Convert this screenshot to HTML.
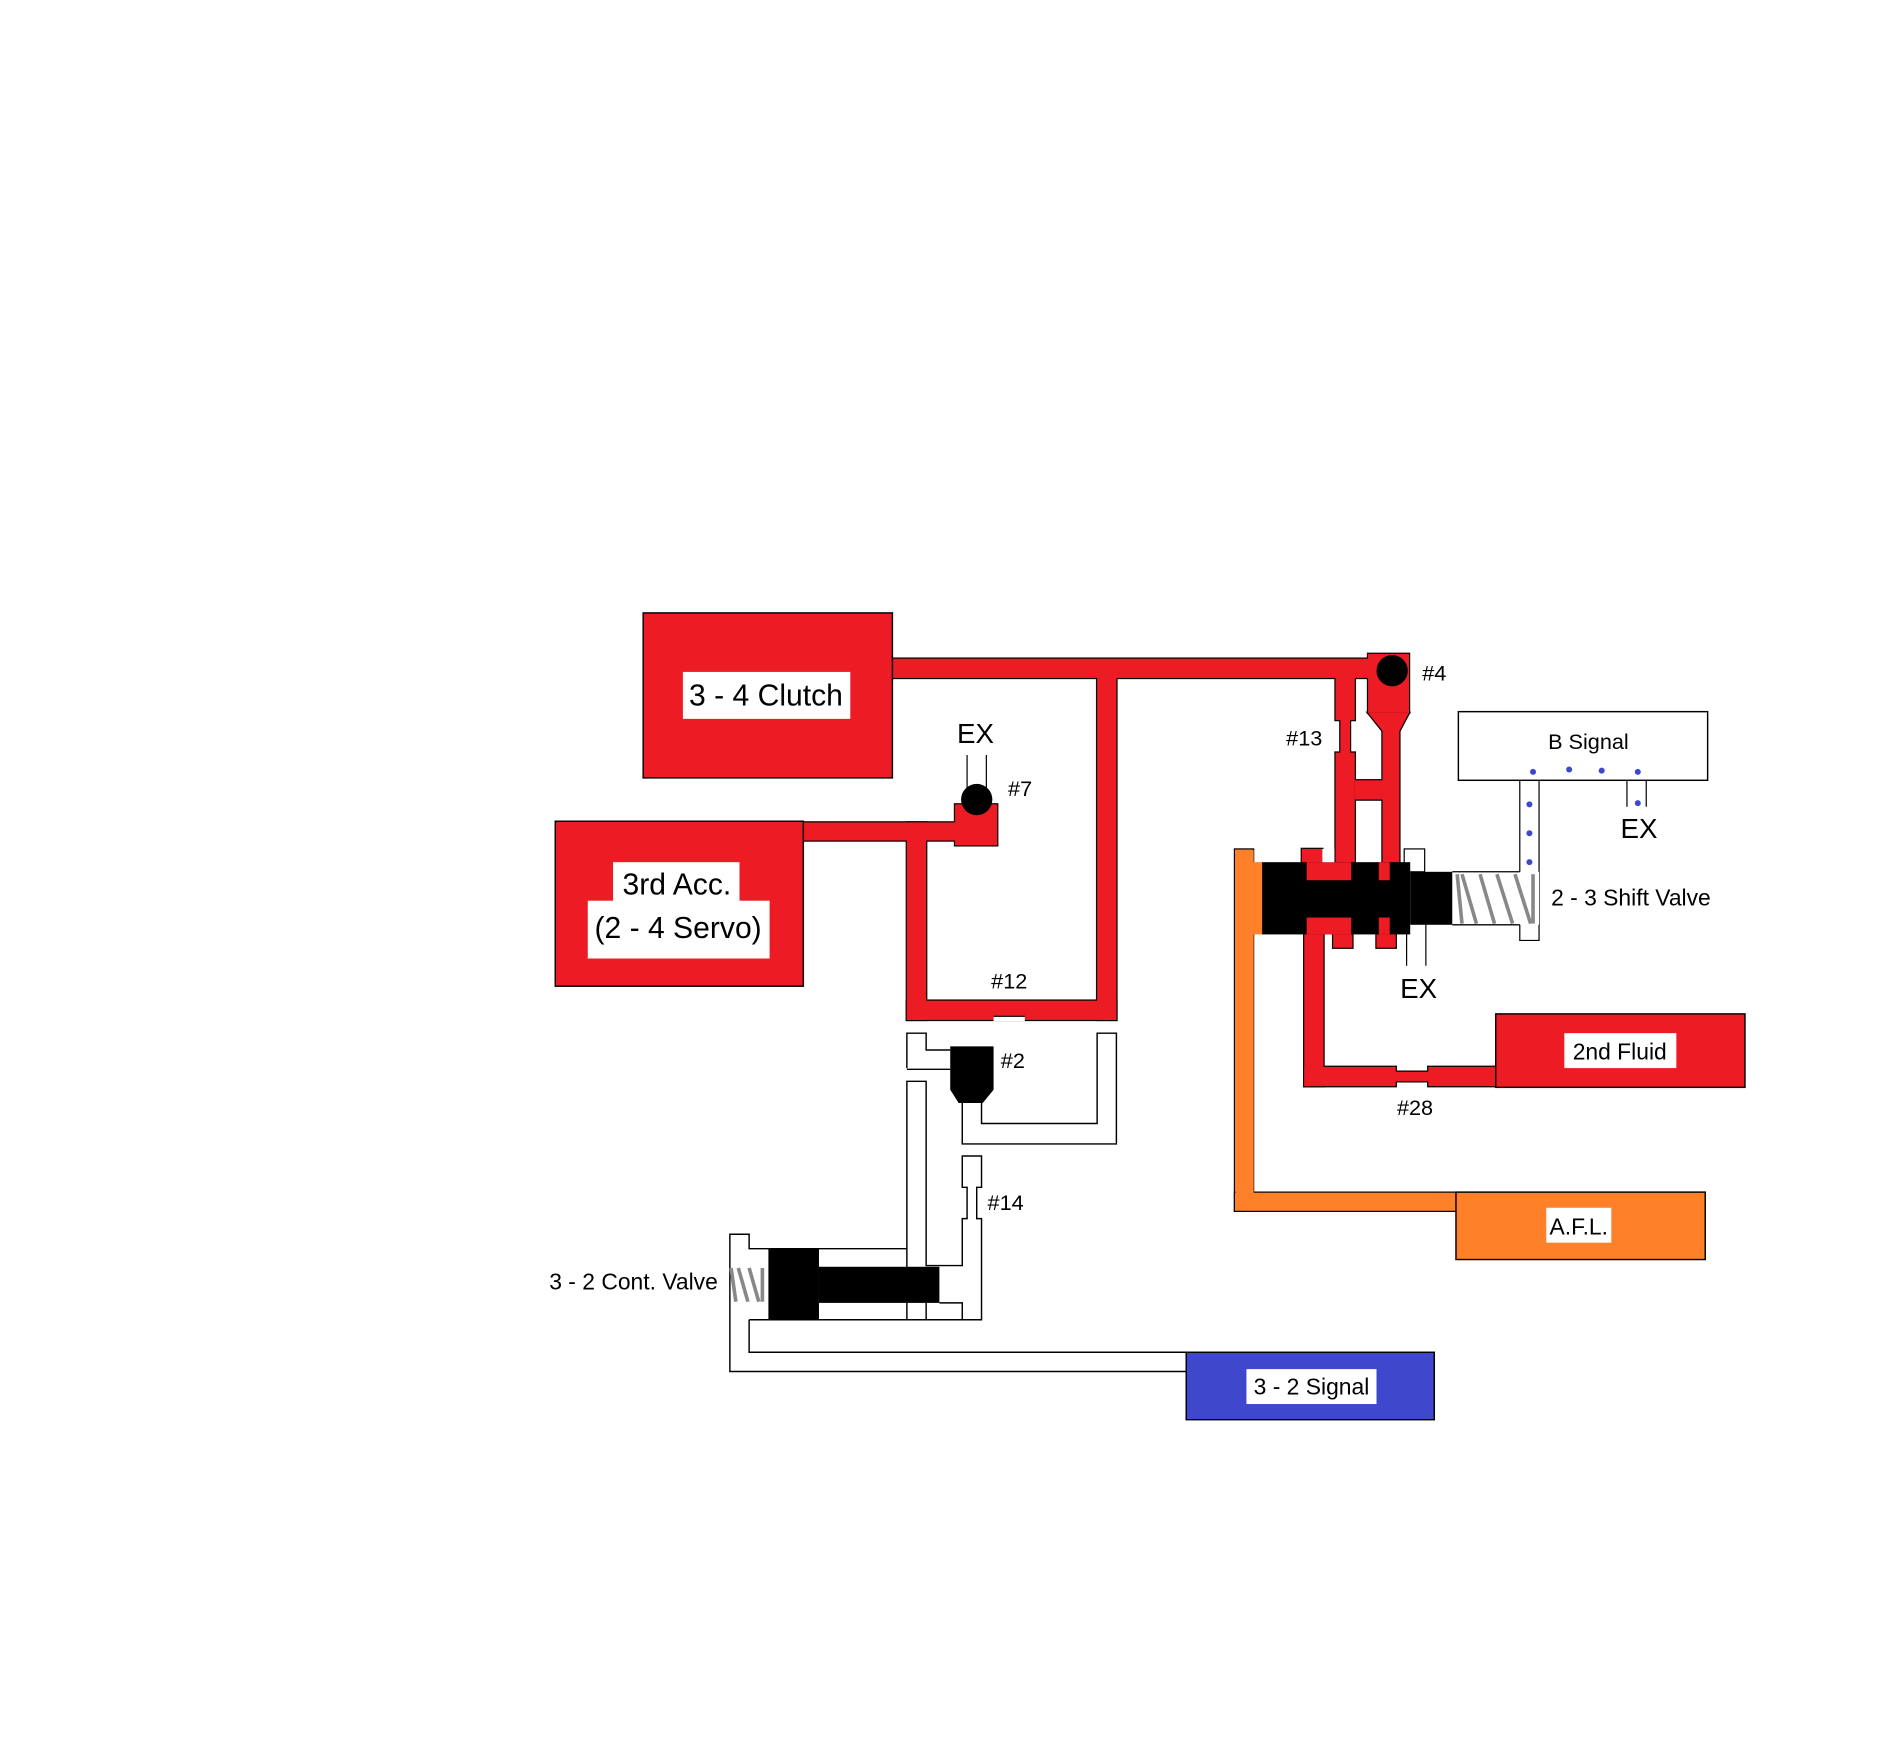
<!DOCTYPE html>
<html><head><meta charset="utf-8"><style>
html,body{margin:0;padding:0;background:#fff;}
svg{display:block;}
text{font-family:"Liberation Sans",sans-serif;fill:#000;}
</style></head><body>
<svg width="1886" height="1740" viewBox="0 0 1566 1445" xmlns="http://www.w3.org/2000/svg">
<defs>
<g id="red">
<rect x="741" y="547" width="399" height="16"/>
<rect x="911" y="555" width="16" height="292"/>
<rect x="753" y="831" width="174" height="16"/>
<rect x="753" y="683" width="16" height="164"/>
<rect x="660" y="683" width="140" height="15"/>
<rect x="793" y="668" width="35" height="34"/>
<rect x="1136" y="543" width="34" height="49"/>
<polygon points="1136,592 1148,607 1162,607 1170,592"/>
<polygon points="1109,558 1125,558 1125,598 1121,598 1121,625 1125,625 1125,716 1109,716 1109,625 1113,625 1113,598 1109,598"/>
<rect x="1148" y="600" width="14" height="116"/>
<rect x="1125" y="648" width="23" height="16"/>
<rect x="1081" y="705" width="17" height="15"/>
<rect x="1083" y="768" width="16" height="134"/>
<polygon points="1083,886 1159,886 1159,890 1186,890 1186,886 1250,886 1250,902 1186,902 1186,898 1159,898 1159,902 1083,902"/>
<rect x="1107" y="770" width="16" height="17"/>
<rect x="1143" y="770" width="16" height="17"/>
</g>
</defs>
<rect width="1566" height="1445" fill="#fff"/>

<rect x="1025" y="705" width="16" height="301" fill="#fe8129" stroke="#000" stroke-width="1"/>
<rect x="1025" y="990" width="190" height="16" fill="#fe8129" stroke="#000" stroke-width="1"/>
<rect x="1026" y="706" width="15" height="299" fill="#fe8129"/>
<rect x="1040" y="716" width="8" height="60" fill="#fe8129"/>
<rect x="1209" y="990" width="207" height="56" fill="#fe8129" stroke="#000" stroke-width="1.2"/>
<rect x="1284" y="1003" width="54" height="29" fill="#fff"/>
<text x="1311" y="1025" font-size="19" text-anchor="middle">A.F.L.</text>

<use href="#red" fill="#ed1c24" stroke="#000" stroke-width="2"/>
<use href="#red" fill="#ed1c24" stroke="none"/>
<rect x="825" y="844" width="26" height="4" fill="#fff"/>
<line x1="825" y1="844" x2="851" y2="844" stroke="#000" stroke-width="1"/>

<rect x="534" y="509" width="207" height="137" fill="#ed1c24" stroke="#000" stroke-width="1.2"/>
<rect x="567" y="558" width="139" height="39" fill="#fff"/>
<text x="636" y="586" font-size="25" text-anchor="middle">3 - 4 Clutch</text>
<rect x="461" y="682" width="206" height="137" fill="#ed1c24" stroke="#000" stroke-width="1.2"/>
<rect x="509" y="716" width="105" height="36" fill="#fff"/>
<rect x="488" y="748" width="151" height="48" fill="#fff"/>
<text x="562" y="743" font-size="25" text-anchor="middle">3rd Acc.</text>
<text x="563" y="779" font-size="25" text-anchor="middle">(2 - 4 Servo)</text>
<rect x="1242" y="842" width="207" height="61" fill="#ed1c24" stroke="#000" stroke-width="1.2"/>
<rect x="1299" y="858" width="93" height="29" fill="#fff"/>
<text x="1345" y="880" font-size="19" text-anchor="middle">2nd Fluid</text>

<line x1="803" y1="627" x2="803" y2="656" stroke="#000"/>
<line x1="819" y1="627" x2="819" y2="656" stroke="#000"/>
<circle cx="811" cy="664" r="13" fill="#000"/>
<text x="810" y="617" font-size="23" text-anchor="middle">EX</text>
<text x="837" y="661" font-size="18">#7</text>
<text x="823" y="821" font-size="18">#12</text>

<circle cx="1156" cy="557" r="13" fill="#000"/>
<text x="1181" y="565" font-size="18">#4</text>
<text x="1068" y="619" font-size="18">#13</text>

<rect x="1048" y="716" width="123" height="60" fill="#000"/>
<rect x="1171" y="724" width="35" height="44" fill="#000"/>
<rect x="1085" y="716" width="37" height="15" fill="#ed1c24"/>
<rect x="1145" y="716" width="9" height="15" fill="#ed1c24"/>
<rect x="1085" y="762" width="37" height="14" fill="#ed1c24"/>
<rect x="1145" y="762" width="9" height="14" fill="#ed1c24"/>
<rect x="1098" y="705" width="10" height="11" fill="#fff"/>
<rect x="1166" y="705" width="17" height="19" fill="#fff" stroke="#000" stroke-width="1"/>
<rect x="1165" y="716" width="6" height="8" fill="#000"/>
<line x1="1168" y1="768" x2="1168" y2="802" stroke="#000"/>
<line x1="1184" y1="768" x2="1184" y2="802" stroke="#000"/>
<text x="1178" y="829" font-size="23" text-anchor="middle">EX</text>
<polyline points="1262,648 1262,724 1206,724" fill="none" stroke="#000"/>
<polyline points="1278,648 1278,781 1262,781 1262,768 1206,768" fill="none" stroke="#000"/>
<rect x="1206" y="724" width="72" height="44" fill="#fff"/>
<line x1="1206" y1="724" x2="1262" y2="724" stroke="#000"/>
<line x1="1206" y1="768" x2="1262" y2="768" stroke="#000"/>
<g stroke="#888" stroke-width="3">
<line x1="1210" y1="726" x2="1214" y2="767"/>
<line x1="1214" y1="726" x2="1226" y2="767"/>
<line x1="1229" y1="726" x2="1241" y2="767"/>
<line x1="1243" y1="726" x2="1256" y2="767"/>
<line x1="1258" y1="726" x2="1271" y2="767"/>
<line x1="1273" y1="726" x2="1273" y2="767"/>
</g>
<text x="1288" y="752" font-size="19">2 - 3 Shift Valve</text>
<rect x="1211" y="591" width="207" height="57" fill="#fff" stroke="#000" stroke-width="1.2"/>
<text x="1319" y="622" font-size="18" text-anchor="middle">B Signal</text>
<line x1="1351" y1="648" x2="1351" y2="670" stroke="#000"/>
<line x1="1367" y1="648" x2="1367" y2="670" stroke="#000"/>
<text x="1361" y="696" font-size="23" text-anchor="middle">EX</text>
<g fill="#3f48cc">
<circle cx="1273" cy="641" r="2.5"/><circle cx="1303" cy="639" r="2.5"/><circle cx="1330" cy="640" r="2.5"/><circle cx="1360" cy="641" r="2.5"/>
<circle cx="1270" cy="668" r="2.5"/><circle cx="1270" cy="692" r="2.5"/><circle cx="1270" cy="716" r="2.5"/><circle cx="1360" cy="667" r="2.5"/>
</g>
<text x="1160" y="926" font-size="18">#28</text>

<g fill="none" stroke="#000" stroke-width="1.2">
<polyline points="753,887 753,858 769,858 769,872 789,872"/>
<line x1="753" y1="888" x2="789" y2="888"/>
<polyline points="799,916 799,950 927,950 927,858 911,858 911,933 815,933 815,916"/>
<polyline points="753,1096 753,898 769,898 769,1051 799,1051 799,1012 803,1012 803,986 799,986 799,960 815,960 815,986 811,986 811,1012 815,1012 815,1096 622,1096"/>
<polyline points="753,1037 622,1037 622,1025 606,1025 606,1139 985,1139"/>
<polyline points="622,1096 622,1123 985,1123"/>
<line x1="769" y1="1082" x2="769" y2="1096"/>
<polyline points="780,1082 799,1082 799,1096"/>
</g>
<polygon points="789,869 825,869 825,905 816,916 796,916 789,905" fill="#000"/>
<text x="831" y="887" font-size="18">#2</text>
<text x="820" y="1005" font-size="18">#14</text>
<rect x="638" y="1037" width="42" height="59" fill="#000"/>
<rect x="680" y="1052" width="100" height="30" fill="#000"/>
<g stroke="#888" stroke-width="3">
<line x1="607" y1="1053" x2="611" y2="1081"/>
<line x1="613" y1="1053" x2="621" y2="1081"/>
<line x1="622" y1="1053" x2="630" y2="1081"/>
<line x1="633" y1="1053" x2="633" y2="1081"/>
</g>
<text x="596" y="1071" font-size="19" text-anchor="end">3 - 2 Cont. Valve</text>
<rect x="985" y="1123" width="206" height="56" fill="#3f48cc" stroke="#000" stroke-width="1.2"/>
<rect x="1035" y="1137" width="108" height="29" fill="#fff"/>
<text x="1089" y="1158" font-size="19" text-anchor="middle">3 - 2 Signal</text>
</svg>
</body></html>
